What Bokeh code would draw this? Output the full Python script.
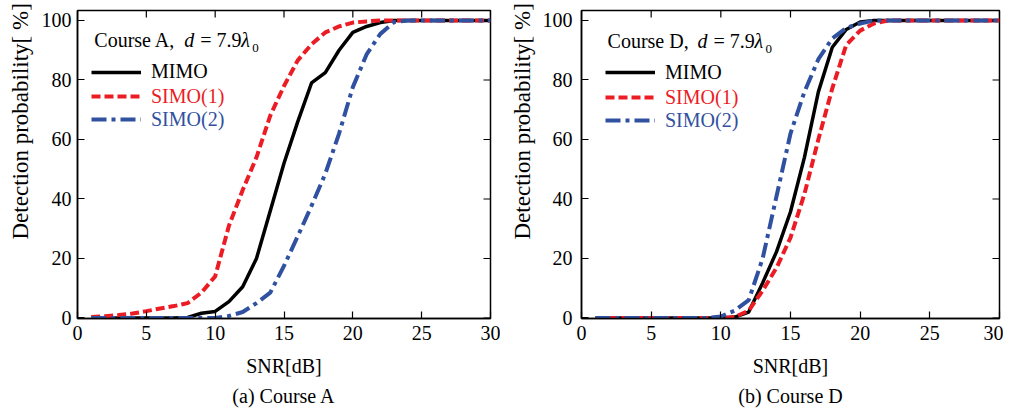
import math
from bokeh.plotting import figure
from bokeh.models import Range1d, FixedTicker, Legend, LegendItem, Label, LinearAxis, Title
from bokeh.layouts import row
from bokeh.embed import file_html
from bokeh.resources import INLINE

# ---------------- data ----------------
snr = list(range(1, 31))
x_ticks = [0, 5, 10, 15, 20, 25, 30]
y_ticks = [0, 20, 40, 60, 80, 100]
series_names = ["MIMO", "SIMO(1)", "SIMO(2)"]

a_mimo = [0, 0, 0, 0, 0, 0, 0, 0.2, 1.6, 2.2, 5.5, 10.5, 20, 36, 52, 66, 79, 82.5, 90, 96, 98, 99.3] + [100] * 8
a_simo1 = [0.3, 0.6, 1, 1.5, 2.3, 3.2, 4, 5, 8.5, 14, 31, 43, 54, 68, 78, 86.6, 92, 96, 98, 99.3, 99.7] + [100] * 9
a_simo2 = [0] * 10 + [0.7, 2, 5, 8.5, 17.5, 27.5, 37.7, 48.5, 62, 77.6, 88.6, 95.5, 99.5] + [100] * 7

d_mimo = [0] * 10 + [0.3, 2, 11.8, 22.3, 35.7, 54, 76, 91, 97, 99.5] + [100] * 10
d_simo1 = [0] * 10 + [0.3, 2.5, 9.2, 16.9, 27, 41.7, 60, 77.2, 91.8, 96.6, 99] + [100] * 9
d_simo2 = [0] * 9 + [0.5, 2.5, 6, 20, 41, 62, 76, 87, 94, 97.5, 99] + [100] * 10

# ---------------- style ----------------
FONT = "Liberation Serif"
AXFONT = "serif"
colors = ["#000000", "#ec1c24", "#3050a0"]
dashes = ["solid", "9 4", "15 5 4 5"]
widths = [3.5, 4, 4]
Y_RANGE = (-0.17, 103.36)


def make_panel(course, caption, values, width, bl, br, ytick_standoff, ylabel_standoff,
               legend_x, legend_ys, title_x, title_y):
    p = figure(width=width, height=410, output_backend="svg", toolbar_location=None,
               x_range=Range1d(0, 30), y_range=Range1d(*Y_RANGE),
               min_border_left=bl, min_border_right=br, min_border_top=10, min_border_bottom=92,
               x_axis_label="SNR[dB]")
    p.grid.visible = False
    p.outline_line_color = "black"
    p.outline_line_width = 1.5
    p.background_fill_color = "white"
    p.border_fill_color = "white"

    for ax, ticks, st in ((p.xaxis[0], x_ticks, 7), (p.yaxis[0], y_ticks, ytick_standoff)):
        ax.ticker = FixedTicker(ticks=ticks)
        ax.major_tick_in = 7
        ax.major_tick_out = 0
        ax.minor_tick_line_color = None
        ax.axis_line_width = 1.5
        ax.major_tick_line_width = 1.2
        ax.major_label_text_font = AXFONT
        ax.major_label_text_font_size = "20px"
        ax.major_label_text_color = "black"
        ax.major_label_standoff = st
        ax.axis_label_text_font = AXFONT
        ax.axis_label_text_font_size = "20px"
        ax.axis_label_text_font_style = "normal"
        ax.axis_label_text_color = "black"
    p.xaxis[0].axis_label_standoff = 12

    # y-axis title, anchored near the bottom of the frame like the reference
    p.add_layout(Title(text="Detection probability[ %]", text_font=FONT, text_font_size="23px",
                       text_font_style="normal", text_color="black", align="left",
                       offset=79, standoff=ylabel_standoff), "left")

    # caption: an extra axis below with no ticks, only its label
    cap = LinearAxis(ticker=FixedTicker(ticks=[]), axis_label=caption, axis_line_color=None,
                     major_tick_line_color=None, minor_tick_line_color=None,
                     axis_label_text_font=AXFONT, axis_label_text_font_size="20px",
                     axis_label_text_font_style="normal", axis_label_text_color="black",
                     axis_label_standoff=5)
    p.add_layout(cap, "below")

    # mirrored inside ticks on top and right edges
    top = Y_RANGE[1]
    p.ray(x=x_ticks, y=[top] * len(x_ticks), length=7, length_units="screen",
          angle=-math.pi / 2, line_color="black", line_width=1.2)
    p.ray(x=[30] * len(y_ticks), y=y_ticks, length=7, length_units="screen",
          angle=math.pi, line_color="black", line_width=1.2)

    renderers = []
    for name, vals, c, d, w in zip(series_names, values, colors, dashes, widths):
        r = p.line(snr, vals, line_color=c, line_dash=d, line_width=w)
        renderers.append(r)

    # legends: one per item so each label has its own colour
    for name, r, c, ly in zip(series_names, renderers, colors, legend_ys):
        lg = Legend(items=[LegendItem(label=name, renderers=[r])], location=(legend_x, ly),
                    glyph_width=50, glyph_height=20, label_height=20, label_standoff=10,
                    padding=0, margin=0, spacing=0, border_line_color=None,
                    background_fill_alpha=0, label_text_font=FONT, label_text_font_size="20px",
                    label_text_color=c)
        p.add_layout(lg, "center")

    # inline title: "Course X, d = 7.9 λ0"
    pieces = [(f"Course {course},", 0, "normal", "20px", 0),
              ("d", 90, "italic", "20px", 0),
              ("= 7.9", 106, "normal", "20px", 0),
              ("λ", 147, "italic", "20px", 0),
              ("0", 158, "normal", "13px", -8)]
    for txt, dx, style, size, dy in pieces:
        p.add_layout(Label(x=title_x, y=title_y, x_offset=dx, y_offset=dy,
                           text=txt, text_font=FONT, text_font_size=size, text_font_style=style,
                           text_color="black", text_baseline="middle", text_align="left"))
    return p


p1 = make_panel("A", "(a) Course A", [a_mimo, a_simo1, a_simo2], 500, 71, 10, 6, 11,
                14, (234.6, 210.3, 187.3), 1.22, 93.3)
p2 = make_panel("D", "(b) Course D", [d_mimo, d_simo1, d_simo2], 503, 81, 4, 9, 9,
                24, (234.3, 209.3, 186.3), 1.87, 93.0)

layout = row(p1, p2)
open("out.html", "w").write(file_html(layout, INLINE))
